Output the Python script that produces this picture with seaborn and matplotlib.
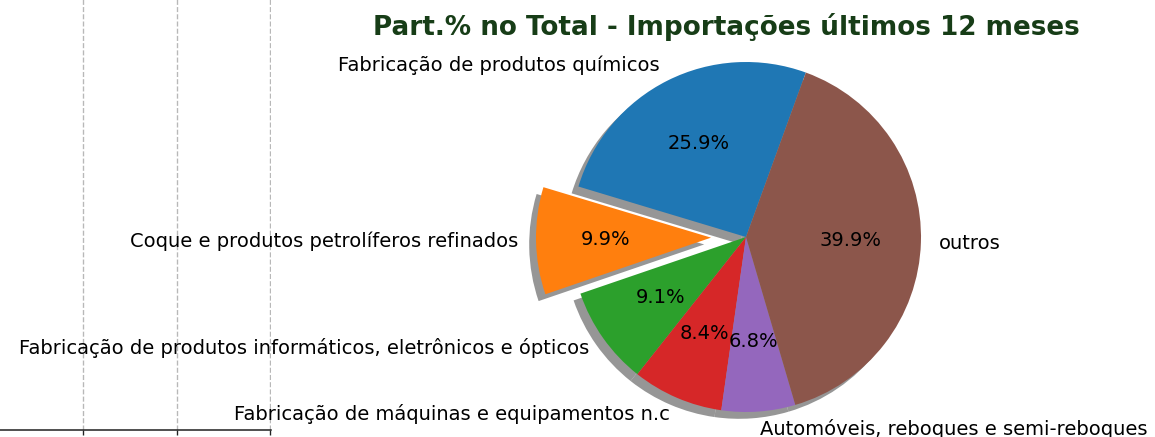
import matplotlib
matplotlib.use("Agg")
import matplotlib.pyplot as plt
import seaborn as sns

# Import shares over the last 12 months, by sector
setores = [
    "Fabricação de produtos químicos",
    "Coque e produtos petrolíferos refinados",
    "Fabricação de produtos informáticos, eletrônicos e ópticos",
    "Fabricação de máquinas e equipamentos n.c",
    "Automóveis, reboques e semi-reboques",
    "outros",
]
participacao = [25.9, 9.9, 9.1, 8.4, 6.8, 39.9]
destaque = [0, 0.2, 0, 0, 0, 0]

# Ticks of the companion panel on the left
ticks_esquerda = [1, 2, 3]

sns.set_style("ticks")
plt.rcParams["font.family"] = ["DejaVu Sans"]

W, H, DPI = 1155, 437, 140
fig = plt.figure(figsize=(W / DPI, H / DPI), dpi=DPI)

# Left panel (only its lower-right corner is in frame)
x0_px, x1_px = -10, 271
ax_l = fig.add_axes([x0_px / W, 7 / H, (x1_px - x0_px) / W, 1.2])
ax_l.set_xlim(0, 3.01)
ax_l.set_ylim(0, 1)
ax_l.set_xticks(ticks_esquerda)
ax_l.set_yticks([])
ax_l.grid(axis="x", linestyle="--", color="#b8b8b8", linewidth=0.7)
ax_l.tick_params(axis="x", length=2.5, width=0.7, colors="#222222", labelbottom=False)
sns.despine(ax=ax_l, top=True, right=True, left=True)
ax_l.spines["bottom"].set_color("#222222")
ax_l.spines["bottom"].set_linewidth(0.8)

# Pie panel
r_px = 175
cx_px, cy_px = 746, 437 - 237
side = 2.5 * r_px
ax = fig.add_axes([(cx_px - side / 2) / W, (cy_px - side / 2) / H, side / W, side / H])
cores = sns.color_palette("tab10", len(setores))
wedges, textos, pcts = ax.pie(
    participacao,
    labels=setores,
    explode=destaque,
    colors=cores,
    autopct="%1.1f%%",
    startangle=70,
    shadow={"ox": -0.02, "oy": -0.02, "facecolor": "0.45", "edgecolor": "0.45", "alpha": 0.75},
    wedgeprops={"linewidth": 0},
    textprops={"fontsize": 10, "color": "black"},
)
for w in ax.patches:
    w.set_clip_on(False)
ax.set_xlim(-1.25, 1.25)
ax.set_ylim(-1.25, 1.25)
ax.set_aspect("equal")
ax.axis("off")

fig.text(726 / W, 1 - 27 / H, "Part.% no Total - Importações últimos 12 meses",
         ha="center", va="center", fontsize=13.5, fontweight="bold", color="#173d17")

fig.savefig("out.png", dpi=DPI)
